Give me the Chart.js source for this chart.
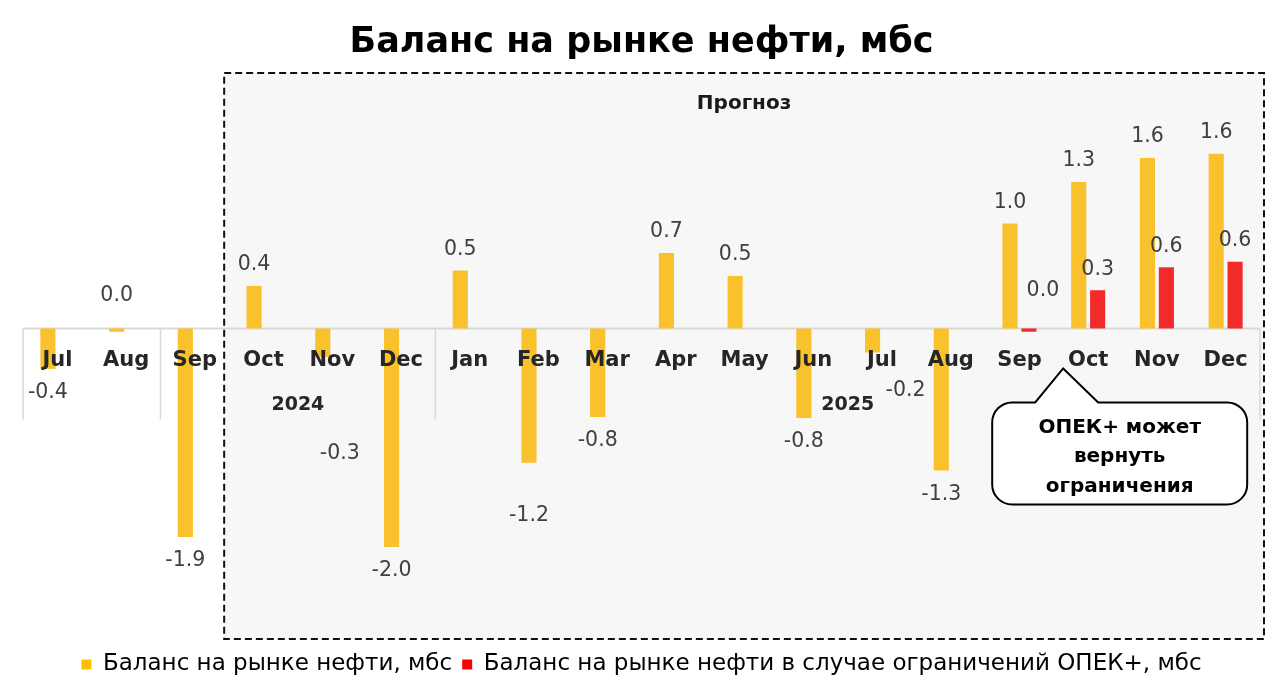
<!DOCTYPE html>
<html><head><meta charset="utf-8">
<script src="https://cdn.jsdelivr.net/npm/chart.js@4.4.1/dist/chart.umd.min.js"></script>
<style>html,body{margin:0;padding:0;background:#fff;} canvas{display:block;}</style>
</head><body>
<canvas id="c" width="1280" height="696"></canvas>
<script>
// ---- data ----
const months = ['Jul','Aug','Sep','Oct','Nov','Dec','Jan','Feb','Mar','Apr','May','Jun','Jul','Aug','Sep','Oct','Nov','Dec'];
const balance = [-0.37, -0.03, -1.91, 0.39, -0.26, -2.00, 0.53, -1.23, -0.81, 0.69, 0.48, -0.82, -0.22, -1.30, 0.96, 1.34, 1.56, 1.60];
const balanceOpec = [null, null, null, null, null, null, null, null, null, null, null, null, null, null, -0.03, 0.35, 0.56, 0.61];
const yearLabels = ['', '2024', '2025'];
const yearStarts = [0, 2, 6];
const forecastStart = 3;
const seriesNames = ['Баланс на рынке нефти, мбс', 'Баланс на рынке нефти в случае ограничений ОПЕК+, мбс'];
const titleText = 'Баланс на рынке нефти, мбс';
const forecastText = 'Прогноз';
const calloutLines = ['ОПЕК+ может', 'вернуть', 'ограничения'];
const calloutIndex = 15;

// ---- styles ----
const FONT = "'DejaVu Sans', sans-serif";
const YELLOW = '#F9C12B', RED = '#F22A2A';
const LEG_YELLOW = '#FFC000', LEG_RED = '#FF0000';
// manual label nudges (dataset, index, dx, dy)
const labelNudges = [
  {ds:0, i:4, dx:17, dy:73},
  {ds:0, i:7, dx:0, dy:29},
  {ds:0, i:12, dx:33, dy:14},
  {ds:1, i:14, dx:14, dy:-5}
];

const decor = {
  id: 'decor',
  beforeDatasetsDraw(chart) {
    const {ctx, chartArea: a, scales: {x, y}} = chart;
    const w = x.getPixelForValue(1) - x.getPixelForValue(0);
    const left = x.getPixelForValue(forecastStart) - w / 2 - 5;
    const right = a.right + 4, top = a.top - 13, bottom = a.bottom - 4;
    ctx.save();
    ctx.fillStyle = '#f7f7f7';
    ctx.fillRect(left, top, right - left, bottom - top);
    ctx.setLineDash([7, 4]);
    ctx.lineWidth = 2;
    ctx.strokeStyle = '#111';
    ctx.strokeRect(left, top, right - left, bottom - top);
    ctx.setLineDash([]);
    ctx.fillStyle = '#1a1a1a';
    ctx.font = "bold 20px " + FONT;
    ctx.textAlign = 'center';
    ctx.textBaseline = 'middle';
    ctx.fillText(forecastText, (left + right) / 2, top + 31);
    // zero line
    const y0 = y.getPixelForValue(0);
    ctx.strokeStyle = '#d9d9d9';
    ctx.lineWidth = 2;
    ctx.beginPath(); ctx.moveTo(a.left, y0); ctx.lineTo(a.right, y0); ctx.stroke();
    // group separators
    const bounds = yearStarts.concat([months.length]);
    ctx.lineWidth = 1.5;
    bounds.forEach(b => {
      const px = x.getPixelForValue(b) - w / 2;
      ctx.beginPath(); ctx.moveTo(px, y0); ctx.lineTo(px, y0 + 91); ctx.stroke();
    });
    // year labels
    ctx.fillStyle = '#262626';
    ctx.font = "bold 19px " + FONT;
    yearLabels.forEach((lab, k) => {
      if (!lab) return;
      const s = yearStarts[k], e = (k + 1 < yearStarts.length ? yearStarts[k + 1] : months.length) - 1;
      const cx = (x.getPixelForValue(s) + x.getPixelForValue(e)) / 2;
      ctx.fillText(lab, cx, y0 + 77);
    });
    ctx.restore();
  },
  afterDatasetsDraw(chart) {
    const {ctx, scales: {y}} = chart;
    const y0 = y.getPixelForValue(0);
    ctx.save();
    ctx.font = "20.5px " + FONT;
    ctx.fillStyle = '#404040';
    ctx.textAlign = 'center';
    ctx.textBaseline = 'middle';
    chart.data.datasets.forEach((ds, di) => {
      const meta = chart.getDatasetMeta(di);
      meta.data.forEach((bar, i) => {
        const v = ds.data[i];
        if (v === null || v === undefined) return;
        let txt = v.toFixed(1);
        if (txt === '-0.0') txt = '0.0';
        let px = bar.x, py;
        if (Math.abs(v) < 0.05) py = y0 - 33;
        else if (v > 0) py = bar.y - 21;
        else py = bar.y + 24;
        labelNudges.forEach(n => { if (n.ds === di && n.i === i) { px += n.dx; py += n.dy; } });
        ctx.fillText(txt, px, py);
      });
    });
    ctx.restore();
  },
  afterDraw(chart) {
    const {ctx, scales: {x, y}} = chart;
    const cx = x.getPixelForValue(calloutIndex);
    const y0 = y.getPixelForValue(0);
    const L = cx - 96, R = cx + 159, T = y0 + 74, B = y0 + 176, r = 20;
    const tipX = cx - 25, tipY = y0 + 40, baseL = cx - 53, baseR = cx + 10;
    ctx.save();
    ctx.beginPath();
    ctx.moveTo(L + r, T);
    ctx.lineTo(baseL, T);
    ctx.lineTo(tipX, tipY);
    ctx.lineTo(baseR, T);
    ctx.lineTo(R - r, T);
    ctx.arcTo(R, T, R, T + r, r);
    ctx.lineTo(R, B - r);
    ctx.arcTo(R, B, R - r, B, r);
    ctx.lineTo(L + r, B);
    ctx.arcTo(L, B, L, B - r, r);
    ctx.lineTo(L, T + r);
    ctx.arcTo(L, T, L + r, T, r);
    ctx.closePath();
    ctx.fillStyle = '#fff';
    ctx.fill();
    ctx.lineWidth = 2;
    ctx.strokeStyle = '#000';
    ctx.stroke();
    ctx.fillStyle = '#000';
    ctx.font = "bold 20px " + FONT;
    ctx.textAlign = 'center';
    ctx.textBaseline = 'middle';
    calloutLines.forEach((t, k) => ctx.fillText(t, (L + R) / 2, T + 25 + k * 29.5));
    ctx.restore();
  }
};

new Chart(document.getElementById('c'), {
  type: 'bar',
  data: {
    labels: months,
    datasets: [
      {label: seriesNames[0], data: balance, backgroundColor: YELLOW, categoryPercentage: 0.55, barPercentage: 0.8},
      {label: seriesNames[1], data: balanceOpec, backgroundColor: RED, categoryPercentage: 0.55, barPercentage: 0.8}
    ]
  },
  options: {
    responsive: false,
    animation: false,
    devicePixelRatio: 1,
    layout: {padding: {left: 23, right: 20, top: 0, bottom: 10}},
    scales: {
      x: {
        position: {y: 0},
        grid: {display: false, drawTicks: false},
        border: {display: false},
        ticks: {z: 1, autoSkip: false, maxRotation: 0, padding: 19, color: '#262626', font: {family: FONT, size: 21, weight: 'bold'}}
      },
      y: {display: false, min: -2.88, max: 2.22}
    },
    plugins: {
      title: {display: true, text: titleText, color: '#000', font: {family: FONT, size: 35, weight: 'bold'}, padding: {top: 22, bottom: 22}},
      legend: {
        position: 'bottom',
        labels: {
          color: '#262626', font: {family: FONT, size: 23}, boxWidth: 10, boxHeight: 10, padding: 10,
          generateLabels: (chart) => chart.data.datasets.map((ds, i) => ({
            text: ds.label, fillStyle: i === 0 ? LEG_YELLOW : LEG_RED, strokeStyle: 'transparent', lineWidth: 0, datasetIndex: i, hidden: false
          }))
        }
      },
      tooltip: {enabled: false}
    }
  },
  plugins: [decor]
});
</script>
</body></html>
